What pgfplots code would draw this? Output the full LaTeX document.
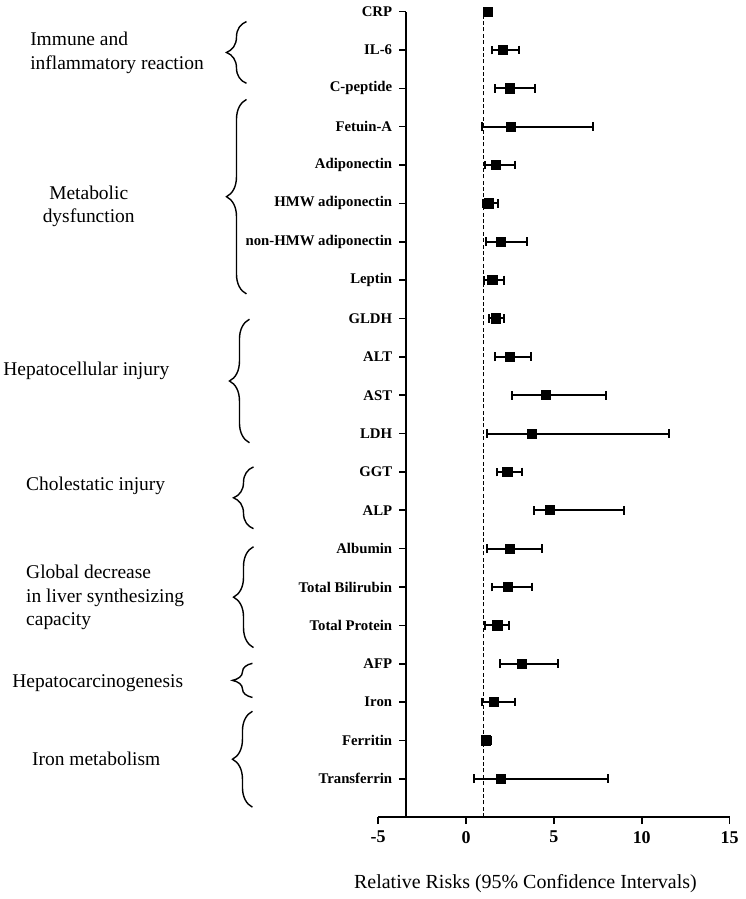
\documentclass[border=0pt]{standalone}
\usepackage{pgfplots}
\pgfplotsset{compat=1.18}
\usepackage{pgfplotstable}
\usepackage{fontspec}
\setmainfont{Liberation Serif}
\usetikzlibrary{decorations.pathreplacing}

\pgfplotstableread{
row rr lo hi
21 1.25 1.15 1.35
20 2.10 1.46 3.00
19 2.50 1.63 3.92
18 2.56 0.93 7.23
17 1.72 1.06 2.76
16 1.31 0.97 1.84
15 1.97 1.15 3.45
14 1.50 1.04 2.16
13 1.69 1.31 2.16
12 2.50 1.63 3.69
11 4.53 2.63 7.94
10 3.73 1.21 11.53
9 2.35 1.76 3.16
8 4.77 3.84 9.01
7 2.50 1.21 4.32
6 2.39 1.46 3.77
5 1.78 1.06 2.44
4 3.20 1.93 5.25
3 1.57 0.93 2.76
2 1.12 0.93 1.44
1 1.97 0.47 8.09
}\forestdata

\begin{document}
\begin{tikzpicture}
\begin{axis}[
 scale only axis, width=176pt, height=403.5pt,
 xmin=-5, xmax=15, ymin=0, ymax=21,
 axis x line*=bottom, axis y line*=left,
 axis y line shift=-14pt,
 axis line style={-, line width=0.8pt},
 xtick={-5,0,5,10,15},
 ytick={1,...,21},
 yticklabels={Transferrin,Ferritin,Iron,AFP,Total Protein,Total Bilirubin,Albumin,ALP,GGT,LDH,AST,ALT,GLDH,Leptin,non-HMW adiponectin,HMW adiponectin,Adiponectin,Fetuin-A,C-peptide,IL-6,CRP},
 tick align=outside, major tick length=3.5pt,
 tick style={line width=0.8pt, black},
 clip=false,
 /pgf/number format/assume math mode=true,
 xticklabel style={font=\bfseries\fontsize{9}{10}\selectfont},
 yticklabel style={font=\bfseries\fontsize{7.4}{8}\selectfont},
 xlabel={Relative Risks (95\% Confidence Intervals)},
 xlabel style={font=\fontsize{10}{12}\selectfont, at={(axis description cs:0.419,-0.082)}, anchor=center},
]
\addplot[black, line width=0.8pt, dash pattern=on 2pt off 1.2pt] coordinates {(1,0) (1,21)};
\addplot[only marks, mark=square*, mark size=2.3pt, black,
  error bars/.cd, x dir=both, x explicit,
  error bar style={line width=1pt, black},
  error mark options={rotate=90, black, mark size=2.2pt, line width=1pt}]
  table[x=rr, y=row, x error plus expr=\thisrow{hi}-\thisrow{rr}, x error minus expr=\thisrow{rr}-\thisrow{lo}] {\forestdata};

\begin{scope}[line width=0.7pt]
\draw[decorate, decoration={brace, amplitude=10pt}] (axis cs:-12.5,19.13) -- (axis cs:-12.5,20.74);
\draw[decorate, decoration={brace, amplitude=10pt}] (axis cs:-12.5,13.64) -- (axis cs:-12.5,18.71);
\draw[decorate, decoration={brace, amplitude=10pt}] (axis cs:-12.33,9.76) -- (axis cs:-12.33,12.98);
\draw[decorate, decoration={brace, amplitude=10pt}] (axis cs:-12.1,7.52) -- (axis cs:-12.1,9.13);
\draw[decorate, decoration={brace, amplitude=10pt}] (axis cs:-12.1,4.42) -- (axis cs:-12.1,7.05);
\draw[decorate, decoration={brace, amplitude=10pt}] (axis cs:-12.16,3.12) -- (axis cs:-12.16,4.01);
\draw[decorate, decoration={brace, amplitude=10pt}] (axis cs:-12.16,0.26) -- (axis cs:-12.16,2.76);
\end{scope}

\begin{scope}[every node/.style={font=\fontsize{9.75}{11.75}\selectfont, inner sep=0pt}]
\node[anchor=west, align=left] at (axis cs:-24.83,19.92) {Immune and\\inflammatory reaction};
\node[align=center] at (axis cs:-21.48,15.93) {Metabolic\\dysfunction};
\node[anchor=west] at (axis cs:-26.36,11.63) {Hepatocellular injury};
\node[anchor=west] at (axis cs:-25.06,8.64) {Cholestatic injury};
\node[anchor=west, align=left] at (axis cs:-25.06,5.72) {Global decrease\\in liver synthesizing\\capacity};
\node[anchor=west] at (axis cs:-25.85,3.49) {Hepatocarcinogenesis};
\node[anchor=west] at (axis cs:-24.72,1.53) {Iron metabolism};
\end{scope}

\path (axis cs:-26.53,21.26) rectangle (axis cs:15.51,-2.134);
\end{axis}
\end{tikzpicture}
\end{document}
